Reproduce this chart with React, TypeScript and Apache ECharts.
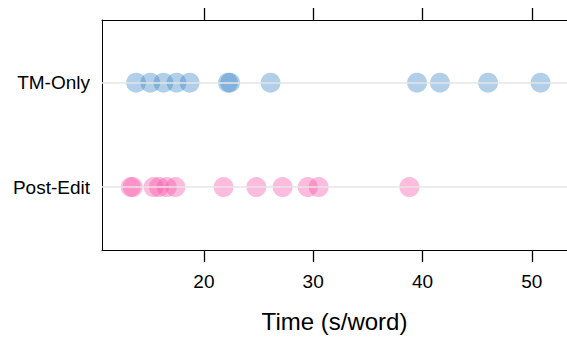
import React, { useEffect, useRef } from "react";
import * as echarts from "echarts";

const categories = ["Post-Edit", "TM-Only"];
const postEditTimes = [13.3, 13.5, 15.4, 15.9, 16.6, 17.4, 21.8, 24.8, 27.2, 29.5, 30.5, 38.8];
const tmOnlyTimes = [13.8, 15.1, 16.3, 17.5, 18.7, 22.2, 22.4, 26.1, 39.5, 41.6, 46.0, 50.8];
const xTicks = [20, 30, 40, 50];

const FONT = "'Liberation Sans', Arial, Helvetica, sans-serif";

export default function App() {
  const ref = useRef<HTMLDivElement>(null);
  useEffect(() => {
    if (!ref.current) return;
    const chart = echarts.init(ref.current, undefined, { renderer: "svg" });
    const toPts = (arr: number[], row: number) => arr.map((v) => [v, row]);
    chart.setOption({
      animation: false,
      textStyle: { fontFamily: FONT },
      grid: { left: 102, top: 20, width: 467, height: 235, containLabel: false },
      xAxis: [
        {
          type: "value",
          position: "bottom",
          min: 10.68,
          max: 53.22,
          name: "Time (s/word)",
          nameLocation: "middle",
          nameGap: 59,
          nameTextStyle: { fontSize: 24, color: "#000", fontFamily: FONT },
          axisLine: { show: true, lineStyle: { color: "#000", width: 1 } },
          axisTick: { show: true, length: 12, customValues: xTicks, lineStyle: { color: "#000", width: 1.3 } },
          axisLabel: { show: true, customValues: xTicks, fontSize: 19, color: "#000", margin: 22, fontFamily: FONT },
          splitLine: { show: false },
        },
        {
          type: "value",
          position: "top",
          min: 10.68,
          max: 53.22,
          axisLine: { show: true, lineStyle: { color: "#000", width: 1 } },
          axisTick: { show: true, length: 12, customValues: xTicks, lineStyle: { color: "#000", width: 1.3 } },
          axisLabel: { show: false },
          splitLine: { show: false },
        },
      ],
      yAxis: {
        type: "value",
        min: 0.397,
        max: 2.6,
        axisLine: { show: true, lineStyle: { color: "#000", width: 1 } },
        axisTick: { show: false },
        axisLabel: {
          customValues: [1, 2],
          formatter: (v: number) => categories[Math.round(v) - 1] ?? "",
          fontSize: 19,
          color: "#000",
          margin: 12,
          fontFamily: FONT,
        },
        splitLine: { show: false },
      },
      series: [
        {
          type: "scatter",
          data: [],
          z: 1,
          markLine: {
            silent: true,
            symbol: "none",
            label: { show: false },
            lineStyle: { color: "#e6e6e6", width: 1.5, type: "solid" },
            data: [{ yAxis: 1 }, { yAxis: 2 }],
          },
        },
        {
          type: "scatter",
          name: categories[1],
          z: 3,
          symbolSize: 20,
          itemStyle: { color: "rgba(60,135,200,0.5)" },
          data: toPts(tmOnlyTimes, 2),
        },
        {
          type: "scatter",
          name: categories[0],
          z: 3,
          symbolSize: 20,
          itemStyle: { color: "rgba(250,85,170,0.5)" },
          data: toPts(postEditTimes, 1),
        },
      ],
    });
    return () => chart.dispose();
  }, []);
  return (
    <div
      ref={ref}
      style={{ position: "fixed", left: 0, top: 0, width: 567, height: 338, background: "#fff" }}
    />
  );
}
